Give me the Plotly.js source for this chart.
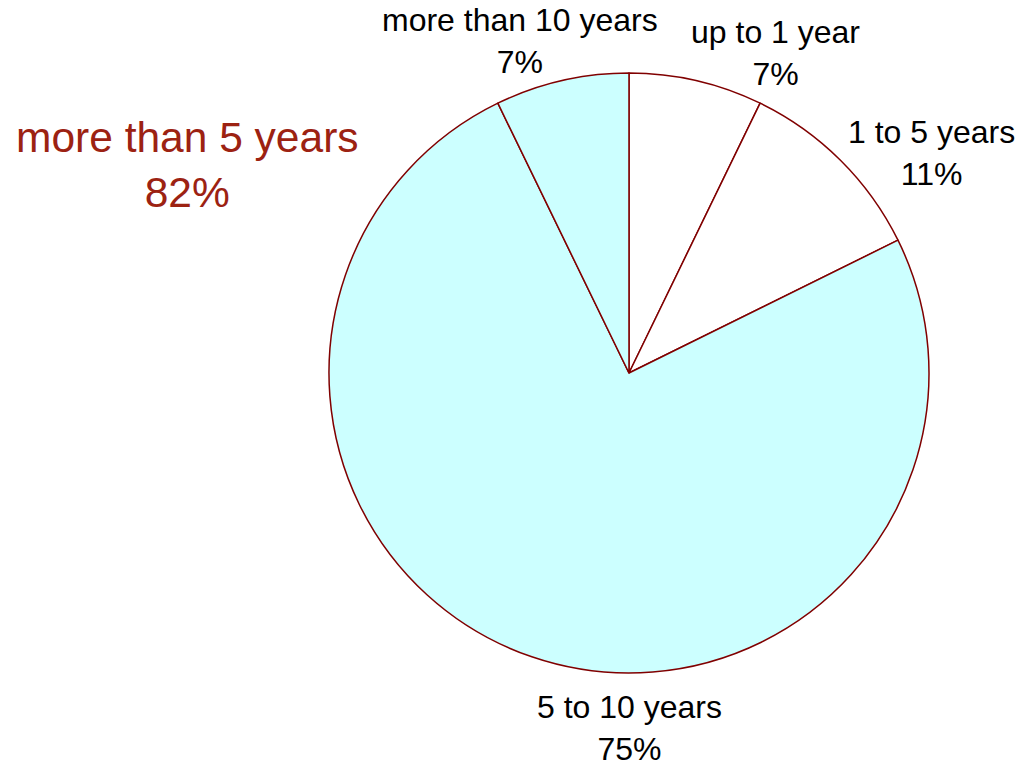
<!DOCTYPE html>
<html>
<head>
<meta charset="utf-8">
<script src="https://cdn.plot.ly/plotly-3.0.1.min.js"></script>
<style>html,body{margin:0;padding:0;background:#fff;}#chart{width:1021px;height:766px;}</style>
</head>
<body>
<div id="chart"></div>
<script>
const categories = ["up to 1 year", "1 to 5 years", "5 to 10 years", "more than 10 years"];
const values = [7.2, 10.5, 75.1, 7.2];
const sliceColors = ["#FFFFFF", "#FFFFFF", "#CCFFFF", "#CCFFFF"];
const groupLabel = "more than 5 years";
const groupValue = "82%";

// label placement (paper coordinates) for each slice label, layout only
const labelPosX = [0.760, 0.9128, 0.617, 0.5093];
const labelPosY = [0.9308, 0.8003, 0.0496, 0.9465];

const total = values.reduce((a, b) => a + b, 0);
const font = "Liberation Sans, Arial, Helvetica, sans-serif";

const trace = {
  type: "pie",
  labels: categories,
  values: values,
  sort: false,
  direction: "clockwise",
  rotation: 0,
  marker: {colors: sliceColors, line: {color: "#800000", width: 1.5}},
  textinfo: "none",
  hoverinfo: "none",
  showlegend: false,
  automargin: false,
  domain: {x: [0.3222, 0.9099], y: [0.1214, 0.9047]}
};

const annotations = categories.map((c, i) => ({
  text: c + "<br>" + Math.round(100 * values[i] / total) + "%",
  xref: "paper", yref: "paper",
  x: labelPosX[i], y: labelPosY[i],
  xanchor: "center", yanchor: "middle",
  showarrow: false,
  font: {family: font, size: 32, color: "#000000"}
}));

annotations.push({
  text: groupLabel + "<br>" + groupValue,
  xref: "paper", yref: "paper",
  x: 0.184, y: 0.785,
  xanchor: "center", yanchor: "middle",
  showarrow: false,
  font: {family: font, size: 42.5, color: "#9C2212"}
});

const layout = {
  width: 1021,
  height: 766,
  margin: {l: 0, r: 0, t: 0, b: 0},
  paper_bgcolor: "#FFFFFF",
  plot_bgcolor: "#FFFFFF",
  showlegend: false,
  annotations: annotations
};

Plotly.newPlot("chart", [trace], layout, {staticPlot: true});
</script>
</body>
</html>
